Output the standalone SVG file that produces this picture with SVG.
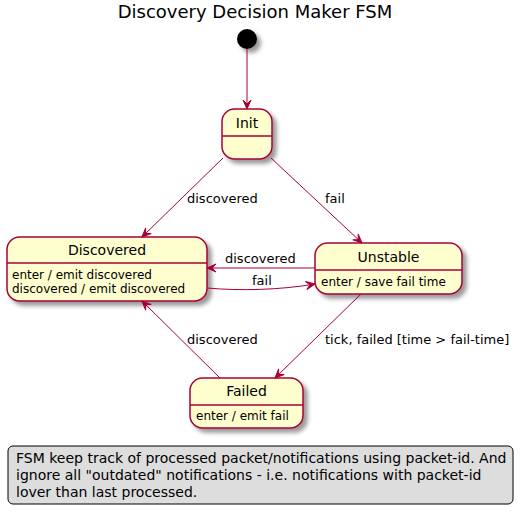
<svg xmlns="http://www.w3.org/2000/svg" width="524" height="514" viewBox="0 0 524 514">
<style>
text{font-family:"DejaVu Sans",sans-serif;fill:#000}
.title{font-size:18px}
.name{font-size:14px}
.desc{font-size:12px}
.lbl{font-size:13px}
.note{font-size:14px}
.st{fill:#FEFECE;stroke:#A80036;stroke-width:1.5}
.sep{stroke:#A80036;stroke-width:1.5}
.edge{fill:none;stroke:#A80036;stroke-width:1}
</style>
<defs>
<filter id="sh" x="-1" y="-1" width="300%" height="300%">
<feGaussianBlur in="SourceAlpha" stdDeviation="2" result="b"/>
<feColorMatrix in="b" type="matrix" values="0 0 0 0 0 0 0 0 0 0 0 0 0 0 0 0 0 0 .4 0" result="b2"/>
<feOffset in="b2" dx="4" dy="4" result="b3"/>
<feBlend in="SourceGraphic" in2="b3" mode="normal"/>
</filter>
<marker id="arr" viewBox="-10 -5 11 10" refX="0" refY="0" markerWidth="11" markerHeight="10" markerUnits="userSpaceOnUse" orient="auto">
<path d="M0,0 L-9,-4 L-5,0 L-9,4 Z" fill="#A80036" stroke="#A80036" stroke-width="1"/>
</marker>
</defs>
<text class="title" x="255" y="18" text-anchor="middle">Discovery Decision Maker FSM</text>
<g id="start">
<circle cx="247" cy="39" r="10" fill="#000" filter="url(#sh)"/>
</g>
<g id="Init">
<rect class="st" x="222" y="109" width="50" height="50" rx="12.5" filter="url(#sh)"/>
<line class="sep" x1="222" y1="136" x2="272" y2="136"/>
<text class="name" x="247" y="128" text-anchor="middle">Init</text>
</g>
<g id="Discovered">
<rect class="st" x="7" y="237" width="200" height="64" rx="12.5" filter="url(#sh)"/>
<line class="sep" x1="7" y1="263" x2="207" y2="263"/>
<text class="name" x="107" y="255" text-anchor="middle">Discovered</text>
<text class="desc" x="12" y="279">enter / emit discovered</text>
<text class="desc" x="12" y="293">discovered / emit discovered</text>
</g>
<g id="Unstable">
<rect class="st" x="315" y="243" width="147" height="51" rx="12.5" filter="url(#sh)"/>
<line class="sep" x1="315" y1="270" x2="462" y2="270"/>
<text class="name" x="388.5" y="262" text-anchor="middle">Unstable</text>
<text class="desc" x="321" y="286">enter / save fail time</text>
</g>
<g id="Failed">
<rect class="st" x="190" y="378" width="113" height="50" rx="12.5" filter="url(#sh)"/>
<line class="sep" x1="190" y1="405" x2="303" y2="405"/>
<text class="name" x="246.5" y="396" text-anchor="middle">Failed</text>
<text class="desc" x="196" y="420">enter / emit fail</text>
</g>
<g id="connectors">
<line class="edge" x1="247" y1="49" x2="247" y2="109" marker-end="url(#arr)"/>
<line class="edge" x1="223" y1="158" x2="142" y2="237" marker-end="url(#arr)"/>
<line class="edge" x1="271" y1="158" x2="362" y2="243" marker-end="url(#arr)"/>
<line class="edge" x1="315" y1="268" x2="207" y2="268" marker-end="url(#arr)"/>
<path class="edge" d="M207,288 C240,291 280,290 315,284" marker-end="url(#arr)"/>
<line class="edge" x1="220" y1="378" x2="142" y2="301" marker-end="url(#arr)"/>
<line class="edge" x1="361" y1="294" x2="275" y2="378" marker-end="url(#arr)"/>
<text class="lbl" x="187" y="203">discovered</text>
<text class="lbl" x="325" y="203">fail</text>
<text class="lbl" x="225" y="263">discovered</text>
<text class="lbl" x="252" y="285">fail</text>
<text class="lbl" x="187" y="344">discovered</text>
<text class="lbl" x="325" y="344">tick, failed [time &gt; fail-time]</text>
</g>
<g id="note">
<rect x="8" y="446" width="505" height="58" rx="5" fill="#DDDDDD" stroke="#000" stroke-width="1"/>
<text class="note" x="16" y="463">FSM keep track of processed packet/notifications using packet-id. And</text>
<text class="note" x="16" y="480">ignore all "outdated" notifications - i.e. notifications with packet-id</text>
<text class="note" x="16" y="497">lover than last processed.</text>
</g>
</svg>
